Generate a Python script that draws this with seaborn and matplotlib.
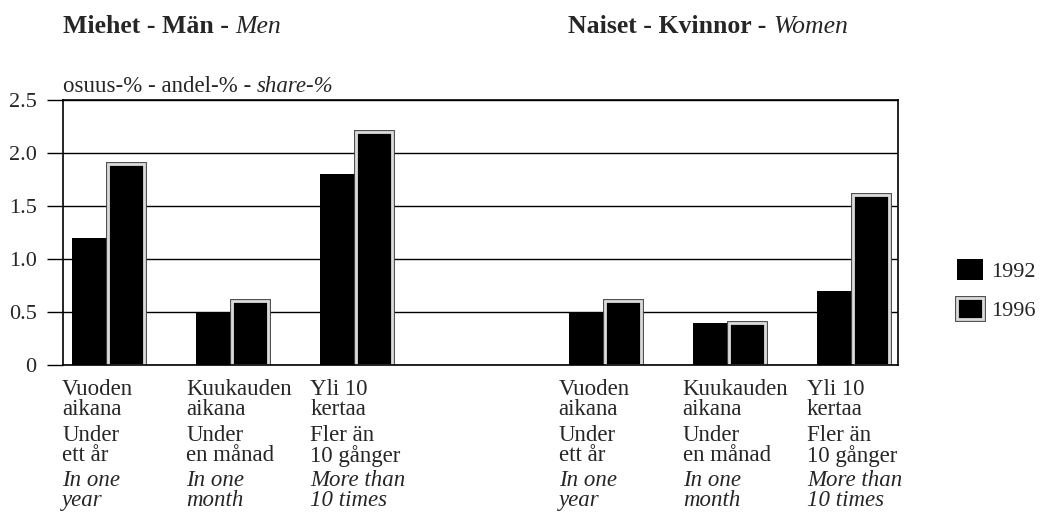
import pandas as pd
import seaborn as sns
import matplotlib.pyplot as plt
from matplotlib import patheffects as pe
from matplotlib.patches import Patch

# Values (share-%)
groups = ["M1", "M2", "M3", " ", "W1", "W2", "W3"]
men_1992 = [1.2, 0.5, 1.8]
men_1996 = [1.9, 0.6, 2.2]
women_1992 = [0.5, 0.4, 0.7]
women_1996 = [0.6, 0.4, 1.6]
years = ["1992", "1996"]

labels_fi = ["Vuoden\naikana", "Kuukauden\naikana", "Yli 10\nkertaa"]
labels_sv = ["Under\nett år", "Under\nen månad", "Fler än\n10 gånger"]
labels_en = ["In one\nyear", "In one\nmonth", "More than\n10 times"]
yticks = [0, 0.5, 1.0, 1.5, 2.0, 2.5]
ytick_labels = ["0", "0.5", "1.0", "1.5", "2.0", "2.5"]

rows = []
for g, a, b in zip(["M1", "M2", "M3"], men_1992, men_1996):
    rows += [(g, "1992", a), (g, "1996", b)]
for g, a, b in zip(["W1", "W2", "W3"], women_1992, women_1996):
    rows += [(g, "1992", a), (g, "1996", b)]
df = pd.DataFrame(rows, columns=["group", "year", "share"])

sns.set_style("white")
plt.rcParams["font.family"] = ["Liberation Serif", "DejaVu Serif"]

fig = plt.figure(figsize=(10.41, 5.17), dpi=100)
ax = fig.add_axes([0.0605, 0.294, 0.802, 0.5126])

sns.barplot(data=df, x="group", y="share", hue="year", order=groups,
            hue_order=years, palette={"1992": "black", "1996": "black"},
            width=0.58, saturation=1, legend=False, ax=ax)

# 1996 bars: black with a light frame
frame = [pe.Stroke(linewidth=3.5, foreground="#444444"), pe.Normal()]
for p in ax.containers[1].patches:
    p.set_edgecolor("#dcdcdc")
    p.set_linewidth(2)
    p.set_path_effects(frame)
for p in ax.containers[0].patches:
    p.set_linewidth(0)

ax.set_xlim(-0.363, 6.363)
ax.set_ylim(0, 2.5)
ax.set_yticks(yticks)
ax.set_yticklabels(ytick_labels, fontsize=16)
ax.yaxis.grid(True, color="black", linewidth=1)
ax.set_axisbelow(True)
ax.tick_params(axis="y", length=0, pad=19)
ax.tick_params(axis="x", length=0)
# gridlines run out past the left spine like tick marks
ax.hlines(yticks, -0.0195, 0, transform=ax.get_yaxis_transform(),
          color="black", linewidth=1, clip_on=False)
ax.set_xticklabels([])
ax.set_xlabel("")
ax.set_ylabel("")
for s in ax.spines.values():
    s.set_color("black")
    s.set_linewidth(1.2)

# multi-language category labels
positions = [i for i, g in enumerate(groups) if g.strip()]
blocks = [(labels_fi * 2, "normal", 14), (labels_sv * 2, "normal", 60),
          (labels_en * 2, "italic", 105)]
for texts, style, off in blocks:
    for x, t in zip(positions, texts):
        ax.annotate(t, xy=(x - 0.37, 0), xycoords=("data", "axes fraction"),
                    xytext=(0, -off), textcoords="offset pixels",
                    ha="left", va="top", fontsize=16.5, style=style,
                    linespacing=0.95)

renderer = fig.canvas.get_renderer()
W = fig.get_figwidth() * fig.dpi


def rich_text(x, y, pieces, size):
    probe = fig.text(0, 0, "x x", fontsize=size)
    probe2 = fig.text(0, 0, "xx", fontsize=size)
    gap = probe.get_window_extent(renderer).width - probe2.get_window_extent(renderer).width
    probe.remove()
    probe2.remove()
    for s, kw in pieces:
        t = fig.text(x, y, s, fontsize=size, ha="left", va="baseline", **kw)
        x += (t.get_window_extent(renderer).width + gap) / W


rich_text(63 / W, 1 - 33 / 517,
          [("Miehet - Män -", {"weight": "bold"}), ("Men", {"style": "italic"})], 18.5)
rich_text(568 / W, 1 - 33 / 517,
          [("Naiset - Kvinnor -", {"weight": "bold"}), ("Women", {"style": "italic"})], 18.5)
rich_text(63 / W, 1 - 92 / 517,
          [("osuus-% - andel-% -", {}), ("share-%", {"style": "italic"})], 16.5)

handles = [Patch(facecolor="black", edgecolor="black", linewidth=0),
           Patch(facecolor="black", edgecolor="#dcdcdc", linewidth=2, path_effects=frame)]
fig.legend(handles, years, loc="center left", bbox_to_anchor=(957 / W, 1 - 290 / 517),
           frameon=False, fontsize=16, handlelength=1.15, handleheight=1.1,
           handletextpad=0.4, labelspacing=0.7, borderpad=0, borderaxespad=0)

fig.savefig("out.png", dpi=100)
